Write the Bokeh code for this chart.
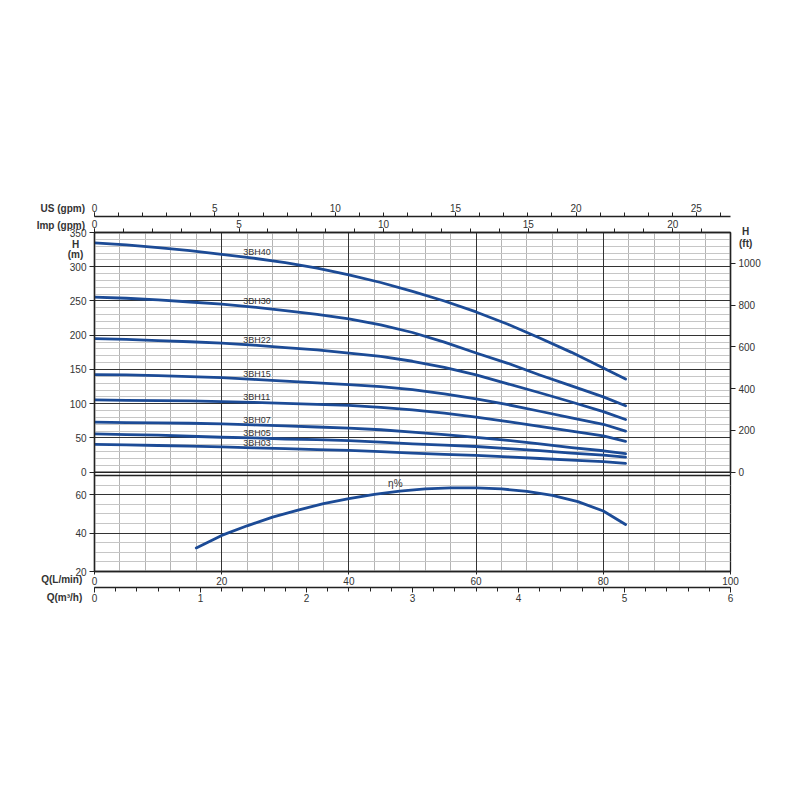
import numpy as np
from bokeh.plotting import figure
from bokeh.models import (Range1d, LinearAxis, SingleIntervalTicker, FixedTicker, Grid,
                          Span, ColumnDataSource, Div)
from bokeh.layouts import column
from bokeh.embed import file_html
from bokeh.resources import INLINE
from bokeh.core.properties import value

# ---------------- data ----------------
flow_lmin = [0, 5, 10, 15, 20, 25, 30, 35, 40, 45, 50, 55, 60, 65, 70, 75, 80, 83.5]
h_3bh40 = [335, 332, 328, 323.5, 318, 312.5, 306, 298, 288, 277, 264, 250, 234, 216, 196, 175, 152, 136]
h_3bh30 = [255.5, 254, 251.5, 248.5, 245.5, 241, 236, 230.5, 224, 215, 204, 190, 174, 159, 142, 126, 110, 97]
h_3bh22 = [195, 194, 192, 190.5, 188.5, 185.5, 182, 178.5, 174, 169, 162, 153, 142, 129, 116, 102.5, 88.5, 77]
h_3bh15 = [142.5, 142, 141, 139.5, 138, 135.5, 133, 130.5, 128, 125, 120.5, 114.5, 107, 98.5, 89, 79.5, 70, 60]
h_3bh11 = [105.5, 105, 104.5, 104, 103, 102, 100.5, 99, 97.5, 94.8, 91, 86.3, 80.5, 74, 67, 60, 53, 45]
h_3bh07 = [73, 72.5, 72, 71.5, 70.5, 69, 67.5, 66, 64.5, 62, 58.5, 55, 51, 46.5, 41.5, 36, 31.3, 27]
h_3bh05 = [56, 55, 54, 52.5, 51, 50, 48.5, 47.5, 46, 44, 41.5, 39.5, 37.5, 34.5, 31.5, 28, 24.8, 22]
h_3bh03 = [40.5, 40, 39, 38, 37, 35.5, 34.5, 33, 32, 30, 28, 26, 24.5, 22.5, 20, 17.5, 15.5, 13]
model_names = ["3BH40", "3BH30", "3BH22", "3BH15", "3BH11", "3BH07", "3BH05", "3BH03"]
model_heads = [h_3bh40, h_3bh30, h_3bh22, h_3bh15, h_3bh11, h_3bh07, h_3bh05, h_3bh03]

eff_flow = [16, 20, 24, 28, 32, 36, 40, 44, 48, 52, 56, 60, 64, 68, 72, 76, 80, 83.5]
eff_pct = [32.3, 38.8, 43.8, 48.3, 52.0, 55.3, 58.0, 60.2, 61.9, 63.0, 63.6, 63.6, 63.0, 61.7, 59.6, 56.4, 51.5, 44.5]

head_ticks = [0, 50, 100, 150, 200, 250, 300, 350]
eff_ticks = [20, 40, 60]

# unit conversions
LPM_PER_USGPM = 3.785411784
LPM_PER_IMPGPM = 4.54609
LPM_PER_M3H = 1000.0 / 60.0
FT_PER_M = 3.28084

Q_MAX = 100
H_MAX = 350
EFF_MIN, EFF_MAX = 20, 70

# ---------------- layout (pixel geometry) ----------------
W, H = 784, 784
FRAME_LEFT, FRAME_RIGHT = 94, 730
FRAME_TOP, HEAD0, EFF_TOP, FRAME_BOTTOM = 232.0, 471.7, 475.0, 571.0
head_low = -H_MAX * (FRAME_BOTTOM - HEAD0) / (HEAD0 - FRAME_TOP)
eff_high = EFF_MIN + (FRAME_BOTTOM - FRAME_TOP) * (EFF_MAX - EFF_MIN) / (FRAME_BOTTOM - EFF_TOP)


def eff_to_head(e):
    """position of an efficiency value on the head (left) scale"""
    return round(head_low + (e - EFF_MIN) * (H_MAX - head_low) / (eff_high - EFF_MIN), 4)


FONT = "Liberation Sans"
CURVE = "#1c4b96"
TXT = "#333333"
AX = "#222222"
MINOR_V = "#b4b4b4"
MINOR_H = "#c6c6c6"
MAJOR = "#333333"

p = figure(width=W, height=H, title=None,
           x_range=Range1d(0, Q_MAX), y_range=Range1d(head_low, H_MAX),
           output_backend="svg", toolbar_location=None,
           min_border_left=FRAME_LEFT, min_border_right=W - FRAME_RIGHT,
           min_border_top=int(FRAME_TOP), min_border_bottom=int(H - FRAME_BOTTOM))
p.extra_x_ranges = {
    "us": Range1d(0, Q_MAX / LPM_PER_USGPM),
    "imp": Range1d(0, Q_MAX / LPM_PER_IMPGPM),
    "m3h": Range1d(0, Q_MAX / LPM_PER_M3H),
}
p.extra_y_ranges = {
    "eff": Range1d(EFF_MIN, eff_high),
    "ft": Range1d(head_low * FT_PER_M, H_MAX * FT_PER_M),
}
p.outline_line_color = AX
p.outline_line_width = 1.3
p.background_fill_color = "white"
p.border_fill_color = "white"


def style_axis(ax, tick_out=5, minor_out=0, standoff=3):
    ax.axis_line_color = AX
    ax.axis_line_width = 1.4
    ax.major_tick_line_color = AX
    ax.major_tick_out = tick_out
    ax.major_tick_in = 0
    ax.minor_tick_out = minor_out
    ax.minor_tick_in = 0
    ax.minor_tick_line_color = AX if minor_out else None
    ax.major_label_text_font = FONT
    ax.major_label_text_font_size = "10px"
    ax.major_label_text_color = TXT
    ax.major_label_standoff = standoff
    ax.axis_label = None


qax = p.xaxis[0]
qax.ticker = SingleIntervalTicker(interval=20)
style_axis(qax, tick_out=3, standoff=2)

m3ax = LinearAxis(x_range_name="m3h", ticker=SingleIntervalTicker(interval=1, num_minor_ticks=5))
style_axis(m3ax, tick_out=5, minor_out=4, standoff=1)
p.add_layout(m3ax, "below")

impax = LinearAxis(x_range_name="imp", ticker=SingleIntervalTicker(interval=5, num_minor_ticks=5))
style_axis(impax, tick_out=4, minor_out=4, standoff=1)
p.add_layout(impax, "above")
usax = LinearAxis(x_range_name="us", ticker=SingleIntervalTicker(interval=5, num_minor_ticks=5))
style_axis(usax, tick_out=4, minor_out=4, standoff=1)
p.add_layout(usax, "above")

# left axis: head (m) on the upper panel, efficiency (%) on the lower panel
hax = p.yaxis[0]
eff_pos = [eff_to_head(e) for e in eff_ticks]
hax.ticker = FixedTicker(ticks=[float(t) for t in head_ticks] + eff_pos)
overrides = {float(t): str(t) for t in head_ticks}
overrides.update({pos: str(e) for pos, e in zip(eff_pos, eff_ticks)})
hax.major_label_overrides = overrides
style_axis(hax, tick_out=5)

ftax = LinearAxis(y_range_name="ft", ticker=SingleIntervalTicker(interval=200),
                  bounds=(0, H_MAX * FT_PER_M))
style_axis(ftax, tick_out=5)
p.add_layout(ftax, "right")

# grids: all minor lines first, then all major lines on top
for g in p.xgrid:
    g.ticker = SingleIntervalTicker(interval=20, num_minor_ticks=5)
    g.grid_line_color = None
    g.minor_grid_line_color = MINOR_V
for g in p.ygrid:
    g.ticker = SingleIntervalTicker(interval=50, num_minor_ticks=5)
    g.bounds = (0, H_MAX)
    g.grid_line_color = None
    g.minor_grid_line_color = MINOR_H
p.add_layout(Grid(dimension=1, y_range_name="eff",
                  ticker=SingleIntervalTicker(interval=20, num_minor_ticks=4),
                  bounds=(EFF_MIN, EFF_MAX),
                  grid_line_color=None, minor_grid_line_color=MINOR_H))
p.add_layout(Grid(dimension=1, ticker=SingleIntervalTicker(interval=50), bounds=(0, H_MAX),
                  grid_line_color=MAJOR, minor_grid_line_color=None))
p.add_layout(Grid(dimension=1, y_range_name="eff", ticker=SingleIntervalTicker(interval=20),
                  bounds=(EFF_MIN, EFF_MAX), grid_line_color=MAJOR, minor_grid_line_color=None))
p.add_layout(Grid(dimension=0, ticker=SingleIntervalTicker(interval=20),
                  grid_line_color=MAJOR, minor_grid_line_color=None))
p.add_layout(Span(location=0, dimension="width", line_color=AX, line_width=1.4))
p.add_layout(Span(location=EFF_MAX, dimension="width", y_range_name="eff",
                  line_color=AX, line_width=1.3))

for name, h in zip(model_names, model_heads):
    p.line(flow_lmin, h, line_color=CURVE, line_width=2.8, line_cap="round", line_join="round")

label_q = 23.4
lab_src = ColumnDataSource(dict(
    x=[label_q] * len(model_names),
    y=[float(np.interp(label_q, flow_lmin, h)) for h in model_heads],
    t=model_names,
))
p.text(x="x", y="y", text="t", source=lab_src, text_font=value(FONT),
       text_font_size="9px", text_color=TXT, text_baseline="bottom", text_align="left")

p.line(eff_flow, eff_pct, y_range_name="eff", line_color=CURVE, line_width=2.8,
       line_cap="round", line_join="round")
p.text(x=[47.3], y=[65.7], text=["η%"], y_range_name="eff", text_font=value(FONT),
       text_font_size="10px", text_color=TXT, text_baseline="middle", text_align="center")


# axis titles that sit in the plot's corners (outside the frame): HTML text on top
def html_label(text, left, center_y, width, align):
    span = (f'<span style="font-family:\'{FONT}\';font-size:10px;font-weight:bold;'
            f'color:{TXT};white-space:nowrap;line-height:12px;">{text}</span>')
    return Div(text=span, styles={
        "position": "absolute", "left": f"{left}px", "top": f"{center_y - 6}px",
        "width": f"{width}px", "text-align": align, "line-height": "12px",
        "margin": "0", "padding": "0", "z-index": "10"})


divs = [
    html_label("US (gpm)", 0, 208, 85, "right"),
    html_label("Imp (gpm)", 0, 225, 85, "right"),
    html_label("H", 55.5, 243.7, 40, "center"),
    html_label("(m)", 55.5, 253.8, 40, "center"),
    html_label("H", 725.7, 230.7, 40, "center"),
    html_label("(ft)", 725.7, 242.6, 40, "center"),
    html_label("Q(L/min)", 0, 579.3, 82.3, "right"),
    html_label("Q(m³/h)", 0, 597.3, 82.3, "right"),
]

layout = column(p, *divs)
open("out.html", "w").write(file_html(layout, INLINE))
